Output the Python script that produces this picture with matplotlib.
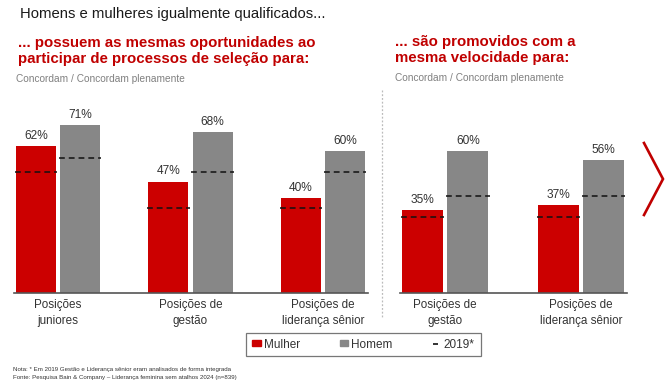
import matplotlib.pyplot as plt
from matplotlib.lines import Line2D
from matplotlib.patches import Patch
import numpy as np

plt.rcParams['font.family'] = ['Liberation Sans', 'DejaVu Sans']

# Data
cats_sel = ['Posições\njuniores', 'Posições de\ngestão', 'Posições de\nliderança sênior']
mulher_sel = [62, 47, 40]
homem_sel = [71, 68, 60]
mulher_sel_2019 = [51, 36, 36]
homem_sel_2019 = [57, 51, 51]

cats_prom = ['Posições de\ngestão', 'Posições de\nliderança sênior']
mulher_prom = [35, 37]
homem_prom = [60, 56]
mulher_prom_2019 = [32, 32]
homem_prom_2019 = [41, 41]

RED = '#CC0000'
GREY = '#878787'
W, H = 669, 384

fig = plt.figure(figsize=(W / 100, H / 100), dpi=100)


def px_axes(x0, x1, ytop, ybot):
    return fig.add_axes([x0 / W, 1 - ybot / H, (x1 - x0) / W, (ybot - ytop) / H])


def draw_panel(ax, cats, mulher, homem, m19, h19, xlim):
    x = np.arange(len(cats))
    off, bw = 0.167, 0.302
    b1 = ax.bar(x - off, mulher, bw, color=RED)
    b2 = ax.bar(x + off, homem, bw, color=GREY)
    for bars in (b1, b2):
        ax.bar_label(bars, labels=[f'{v}%' for v in bars.datavalues], padding=3,
                     fontsize=8.6, color='#333333')
    ax.hlines(m19, x - off - 0.16, x - off + 0.16, colors='#111111', lw=1.1,
              linestyles=(0, (3.8, 2.6)), zorder=3)
    ax.hlines(h19, x + off - 0.16, x + off + 0.16, colors='#111111', lw=1.1,
              linestyles=(0, (3.8, 2.6)), zorder=3)
    ax.set_xlim(*xlim)
    ax.set_ylim(0, 100)
    ax.set_yticks([])
    ax.set_xticks(x)
    ax.set_xticklabels(cats, fontsize=8.4, color='#333333', linespacing=1.4)
    ax.tick_params(axis='x', length=0, pad=4.5)
    for s in ('top', 'right', 'left'):
        ax.spines[s].set_visible(False)
    ax.spines['bottom'].set_color('#555555')
    ax.spines['bottom'].set_linewidth(1.2)


ax1 = px_axes(14, 368, 56, 293)
draw_panel(ax1, cats_sel, mulher_sel, homem_sel, mulher_sel_2019, homem_sel_2019,
           (-0.332, 2.34))
ax2 = px_axes(400, 627, 56, 293)
draw_panel(ax2, cats_prom, mulher_prom, homem_prom, mulher_prom_2019, homem_prom_2019,
           (-0.333, 1.339))

# Titles
fig.text(20 / W, 1 - 14 / H, 'Homens e mulheres igualmente qualificados...', fontsize=10.7,
         color='#1a1a1a', va='center')
fig.text(18 / W, 1 - 51 / H, '... possuem as mesmas oportunidades ao\nparticipar de processos de seleção para:',
         fontsize=10.8, fontweight='bold', color='#C00000', va='center', linespacing=1.1)
fig.text(395 / W, 1 - 50 / H, '... são promovidos com a\nmesma velocidade para:',
         fontsize=10.8, fontweight='bold', color='#C00000', va='center', linespacing=1.1)
fig.text(16 / W, 1 - 79 / H, 'Concordam / Concordam plenamente', fontsize=7.3, color='#808080', va='center')
fig.text(395 / W, 1 - 78 / H, 'Concordam / Concordam plenamente', fontsize=7.3, color='#808080', va='center')

# Separator and chevron
fig.add_artist(Line2D([382 / W, 382 / W], [1 - 90 / H, 1 - 318 / H], color='#bbbbbb',
                      lw=0.9, linestyle=(0, (1.5, 1.5))))
fig.add_artist(Line2D([644 / W, 663 / W, 644 / W], [1 - 143 / H, 1 - 179 / H, 1 - 215 / H],
                      color='#C00000', lw=1.9, solid_joinstyle='miter'))

# Legend
handles = [Patch(color=RED), Patch(color=GREY),
           Line2D([], [], color='#111111', lw=1.2, linestyle=(0, (3, 3)))]
leg = fig.legend(handles, ['Mulher', 'Homem', '2019*'], loc='center', ncol=3,
                 bbox_to_anchor=(363.5 / W, 1 - 344.5 / H), fontsize=8.5, frameon=True,
                 fancybox=False, edgecolor='#555555', handlelength=0.7, handleheight=0.45,
                 handletextpad=0.25, columnspacing=3.4, borderpad=0.5, borderaxespad=0)
leg.get_frame().set_linewidth(0.9)
for t in leg.get_texts():
    t.set_color('#333333')
# widen the frame a bit to match the boxed legend
leg._legend_box.sep = 0

# Notes
fig.text(13 / W, 1 - 369 / H, 'Nota: * Em 2019 Gestão e Liderança sênior eram analisados de forma integrada',
         fontsize=4.4, color='#333333', va='center')
fig.text(13 / W, 1 - 378 / H, 'Fonte: Pesquisa Bain & Company – Liderança feminina sem atalhos 2024 (n=839)',
         fontsize=4.4, color='#333333', va='center')

fig.savefig('out.png', dpi=100)
